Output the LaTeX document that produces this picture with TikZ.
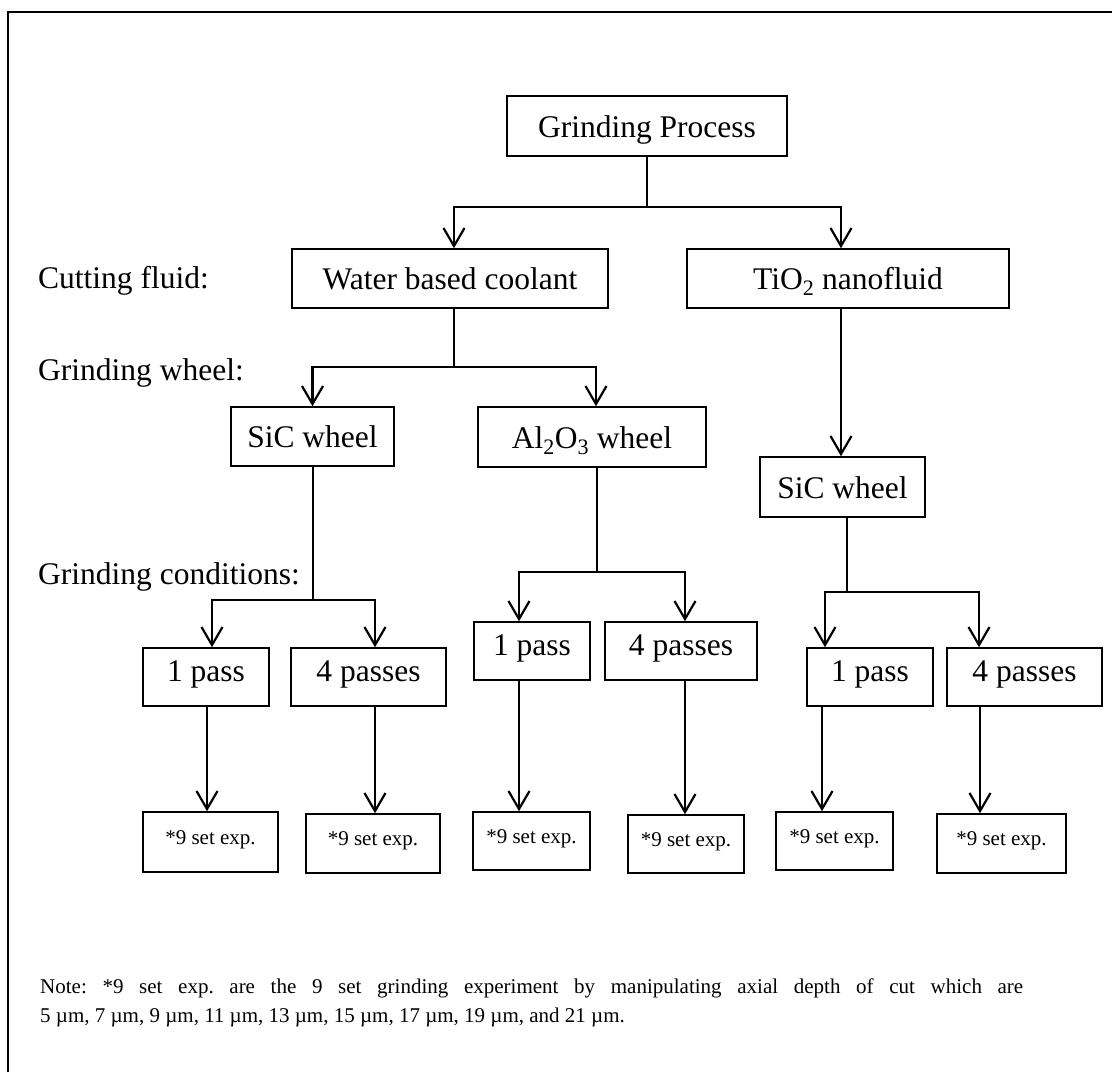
\documentclass[tikz,border=0pt]{standalone}
\usepackage{fontspec}
\setmainfont{Liberation Serif}
\usetikzlibrary{arrows.meta}
\frenchspacing
\begin{document}
\begin{tikzpicture}[x=1pt,y=-1pt,
  box/.style={draw,line width=1.6pt,inner sep=0pt,text height=26pt,text depth=4pt,font=\fontsize{31.5}{36}\selectfont},
  passbox/.style={draw,line width=1.6pt,inner sep=0pt,text height=19pt,text depth=11pt,font=\fontsize{31.5}{36}\selectfont},
  smallbox/.style={draw,line width=1.6pt,inner sep=0pt,text height=15pt,text depth=11pt,font=\fontsize{21}{25}\selectfont},
  lab/.style={anchor=base west,inner sep=0pt,font=\fontsize{31.5}{36}\selectfont},
  notetext/.style={anchor=base west,inner sep=0pt,font=\fontsize{21}{25}\selectfont},
  stem/.style={line width=1.3pt},
  branch/.style={line width=2.2pt,-{Straight Barb[length=18pt,width=21pt]}},
]
\useasboundingbox (0,0) rectangle (1112,1072);
\draw[line width=2pt] (8,1072) -- (8,12) -- (1112,12);

% labels
\node[lab] (cf) at (38,288) {Cutting fluid:};
\node[lab] (gw) at (38,380) {Grinding wheel:};
\node[lab] (gc) at (38,584) {Grinding conditions:};

% level 0
\node[box,minimum width=280pt,minimum height=60pt] (gp) at (647,126) {Grinding Process};
% level 1
\node[box,minimum width=316pt,minimum height=59pt] (water) at (450,278.5) {Water based coolant};
\node[box,minimum width=322pt,minimum height=59pt] (tio2) at (848,278.5) {TiO\textsubscript{2} nanofluid};
% level 2
\node[box,minimum width=163pt,minimum height=59pt] (sic1) at (312.5,436.5) {SiC wheel};
\node[box,minimum width=228pt,minimum height=60pt] (al) at (592,437) {Al\textsubscript{2}O\textsubscript{3} wheel};
\node[box,minimum width=165pt,minimum height=60pt] (sic2) at (842.5,487) {SiC wheel};
% level 3
\node[passbox,minimum width=126pt,minimum height=58pt] (p1) at (206,677) {1 pass};
\node[passbox,minimum width=155pt,minimum height=58pt] (p2) at (368.5,677) {4 passes};
\node[passbox,minimum width=116pt,minimum height=58pt] (p3) at (532,651) {1 pass};
\node[passbox,minimum width=152pt,minimum height=58pt] (p4) at (681,651) {4 passes};
\node[passbox,minimum width=126pt,minimum height=58pt] (p5) at (870,677) {1 pass};
\node[passbox,minimum width=155pt,minimum height=58pt] (p6) at (1024.5,677) {4 passes};
% level 4
\node[smallbox,minimum width=135pt,minimum height=60pt] (b1) at (210.5,842) {*9 set exp.};
\node[smallbox,minimum width=134pt,minimum height=59pt] (b2) at (373,843.5) {*9 set exp.};
\node[smallbox,minimum width=117pt,minimum height=58pt] (b3) at (531.5,841) {*9 set exp.};
\node[smallbox,minimum width=116pt,minimum height=58pt] (b4) at (686,844) {*9 set exp.};
\node[smallbox,minimum width=117pt,minimum height=58pt] (b5) at (834.5,841) {*9 set exp.};
\node[smallbox,minimum width=129pt,minimum height=59pt] (b6) at (1001.5,843.5) {*9 set exp.};

% connectors level 0 -> 1
\coordinate (j1) at (647,207);
\draw[stem] (gp.south) -- (j1);
\draw[branch] (j1) -| ([xshift=4pt]water.north);
\draw[branch] (j1) -| ([xshift=-7pt]tio2.north);
% level 1 -> 2
\coordinate (j2) at (454,367);
\draw[stem] (water.south -| j2) -- (j2);
\draw[branch] (j2) -| (sic1.north);
\draw[branch] (j2) -| ([xshift=4pt]al.north);
\draw[branch] ([xshift=-7pt]tio2.south) -- ([xshift=-7pt]tio2.south |- sic2.north);
% level 2 -> 3
\coordinate (j3) at (313,600);
\draw[stem] (sic1.south -| j3) -- (j3);
\draw[branch] (j3) -| ([xshift=6pt]p1.north);
\draw[branch] (j3) -| ([xshift=6.5pt]p2.north);
\coordinate (j4) at (597,572);
\draw[stem] (al.south -| j4) -- (j4);
\draw[branch] (j4) -| ([xshift=-13pt]p3.north);
\draw[branch] (j4) -| ([xshift=4pt]p4.north);
\coordinate (j5) at (847,592);
\draw[stem] (sic2.south -| j5) -- (j5);
\draw[branch] (j5) -| ([xshift=-45pt]p5.north);
\draw[branch] (j5) -| ([xshift=-45.5pt]p6.north);
% level 3 -> 4
\draw[branch] ([xshift=1pt]p1.south) -- ([xshift=1pt]p1.south |- b1.north);
\draw[branch] ([xshift=6.5pt]p2.south) -- ([xshift=6.5pt]p2.south |- b2.north);
\draw[branch] ([xshift=-13pt]p3.south) -- ([xshift=-13pt]p3.south |- b3.north);
\draw[branch] ([xshift=4pt]p4.south) -- ([xshift=4pt]p4.south |- b4.north);
\draw[branch] ([xshift=-48pt]p5.south) -- ([xshift=-48pt]p5.south |- b5.north);
\draw[branch] ([xshift=-44.5pt]p6.south) -- ([xshift=-44.5pt]p6.south |- b6.north);

% note
\node[notetext] (note1) at (40,993) {\makebox[983pt][s]{Note: *9 set exp. are the 9 set grinding experiment by manipulating axial depth of cut which are}};
\node[notetext] (note2) at (40,1022) {5 µm, 7 µm, 9 µm, 11 µm, 13 µm, 15 µm, 17 µm, 19 µm, and 21 µm.};
\end{tikzpicture}
\end{document}
